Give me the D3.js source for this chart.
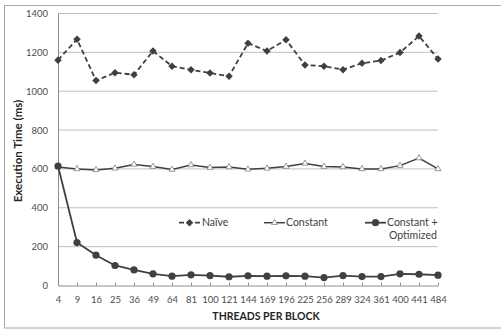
<!DOCTYPE html>
<html>
<head>
<meta charset="utf-8">
<script src="https://cdn.jsdelivr.net/npm/d3@7"></script>
<style>
  body { margin: 0; background: #fff; }
  text { font-family: Lato, "Open Sans", sans-serif; }
</style>
</head>
<body>
<div id="chart"></div>
<script>
// data
var threads = ["4", "9", "16", "25", "36", "49", "64", "81", "100", "121", "144",
               "169", "196", "225", "256", "289", "324", "361", "400", "441", "484"];
var naive = [1160, 1268, 1055, 1095, 1085, 1207, 1129, 1110, 1094, 1077, 1247,
             1207, 1265, 1135, 1129, 1111, 1144, 1158, 1199, 1284, 1166];
var constant = [610, 600, 595, 603, 623, 612, 597, 620, 607, 610, 598,
                603, 612, 628, 612, 610, 600, 600, 617, 656, 600];
var constOpt = [615, 221, 156, 103, 80, 60, 48, 55, 51, 45, 50,
                48, 50, 48, 41, 51, 46, 46, 60, 58, 53];
var yTicks = [0, 200, 400, 600, 800, 1000, 1200, 1400];

var W = 501, H = 329;
var margin = {top: 13.5, right: 63, bottom: 43.5, left: 58};
var width = W - margin.left - margin.right,
    height = H - margin.top - margin.bottom;

var ink = "#404040", labelCol = "#4d4d4d";

var root = d3.select("#chart").append("svg")
  .attr("width", W)
  .attr("height", H);

// outer chart border
root.append("rect")
  .attr("x", 4.5).attr("y", 5.5)
  .attr("width", 510).attr("height", 322.5)
  .attr("fill", "none")
  .attr("stroke", "#a6a6a6")
  .attr("stroke-width", 1);

var svg = root.append("g")
  .attr("transform", "translate(" + margin.left + "," + margin.top + ")");

var x = d3.scalePoint().domain(threads).range([0, width]);
var y = d3.scaleLinear().domain([0, 1400]).range([height, 0]);

// gridlines
svg.append("g")
  .selectAll("line")
  .data(yTicks.slice(1))
  .enter()
  .append("line")
    .attr("x1", 0).attr("x2", width)
    .attr("y1", d => y(d)).attr("y2", d => y(d))
    .attr("stroke", "#bfbfbf")
    .attr("stroke-width", 1);

// y axis
var yAxis = svg.append("g")
  .call(d3.axisLeft(y).tickValues(yTicks).tickFormat(d3.format("d")).tickSize(0).tickPadding(10));
yAxis.select(".domain").attr("stroke", "#8c8c8c");
yAxis.selectAll("text")
  .attr("font-size", "9.5px")
  .attr("fill", labelCol)
  .style("font-family", "Lato, sans-serif");

// x axis, small ticks pointing up into the plot
var xAxis = svg.append("g")
  .attr("transform", "translate(0," + height + ")")
  .call(d3.axisBottom(x).tickSize(0).tickPadding(11));
xAxis.select(".domain").attr("stroke", "#8c8c8c");
xAxis.selectAll(".tick line")
  .attr("y2", -3)
  .attr("stroke", "#8c8c8c");
xAxis.selectAll("text")
  .attr("font-size", "9.5px")
  .attr("fill", labelCol)
  .style("font-family", "Lato, sans-serif");

// axis titles
root.append("text")
  .attr("x", 266)
  .attr("y", 320)
  .attr("text-anchor", "middle")
  .attr("font-size", "10.5px")
  .attr("font-weight", "bold")
  .attr("fill", "#262626")
  .text("THREADS PER BLOCK");

root.append("text")
  .attr("transform", "translate(22,151) rotate(-90)")
  .attr("text-anchor", "middle")
  .attr("font-size", "11.5px")
  .attr("font-weight", "bold")
  .attr("fill", "#262626")
  .text("Execution Time (ms)");

var line = d3.line()
  .x((d, i) => x(threads[i]))
  .y(d => y(d));

var diamond = d3.symbol().type(d3.symbolDiamond2).size(36);
var tri = d3.symbol().type(d3.symbolTriangle2).size(26);

// Naive
svg.append("path")
  .datum(naive)
  .attr("d", line)
  .attr("fill", "none")
  .attr("stroke", ink)
  .attr("stroke-width", 1.8)
  .attr("stroke-dasharray", "5,3");
svg.append("g")
  .selectAll("path")
  .data(naive)
  .enter()
  .append("path")
    .attr("d", diamond)
    .attr("transform", (d, i) => "translate(" + x(threads[i]) + "," + y(d) + ")")
    .attr("fill", ink);

// Constant
svg.append("path")
  .datum(constant)
  .attr("d", line)
  .attr("fill", "none")
  .attr("stroke", ink)
  .attr("stroke-width", 1.5);
svg.append("g")
  .selectAll("path")
  .data(constant)
  .enter()
  .append("path")
    .attr("d", tri)
    .attr("transform", (d, i) => "translate(" + x(threads[i]) + "," + y(d) + ")")
    .attr("fill", "#fff")
    .attr("stroke", "#7f7f7f")
    .attr("stroke-width", 0.8);

// Constant + Optimized
svg.append("path")
  .datum(constOpt)
  .attr("d", line)
  .attr("fill", "none")
  .attr("stroke", ink)
  .attr("stroke-width", 1.8);
svg.append("g")
  .selectAll("circle")
  .data(constOpt)
  .enter()
  .append("circle")
    .attr("cx", (d, i) => x(threads[i]))
    .attr("cy", d => y(d))
    .attr("r", 3.6)
    .attr("fill", ink);

// legend
var ly = 222.7;
var legend = root.append("g").attr("font-size", "10.5px").attr("fill", "#404040");

legend.append("line")
  .attr("x1", 179).attr("x2", 200).attr("y1", ly).attr("y2", ly)
  .attr("stroke", ink).attr("stroke-width", 1.8).attr("stroke-dasharray", "5,3");
legend.append("path").attr("d", diamond)
  .attr("transform", "translate(189.5," + ly + ")").attr("fill", ink);
legend.append("text").attr("x", 202).attr("y", ly + 3.5).text("Naïve");

legend.append("line")
  .attr("x1", 264).attr("x2", 285).attr("y1", ly).attr("y2", ly)
  .attr("stroke", ink).attr("stroke-width", 1.5);
legend.append("path").attr("d", tri)
  .attr("transform", "translate(274.5," + ly + ")")
  .attr("fill", "#fff").attr("stroke", "#7f7f7f").attr("stroke-width", 0.8);
legend.append("text").attr("x", 286).attr("y", ly + 3.5).text("Constant");

legend.append("line")
  .attr("x1", 365).attr("x2", 386).attr("y1", ly).attr("y2", ly)
  .attr("stroke", ink).attr("stroke-width", 1.8);
legend.append("circle").attr("cx", 375.5).attr("cy", ly).attr("r", 3.6).attr("fill", ink);
legend.append("text").attr("x", 387).attr("y", ly + 3.5).text("Constant +");
legend.append("text").attr("x", 389).attr("y", ly + 16.5).text("Optimized");
</script>
</body>
</html>
